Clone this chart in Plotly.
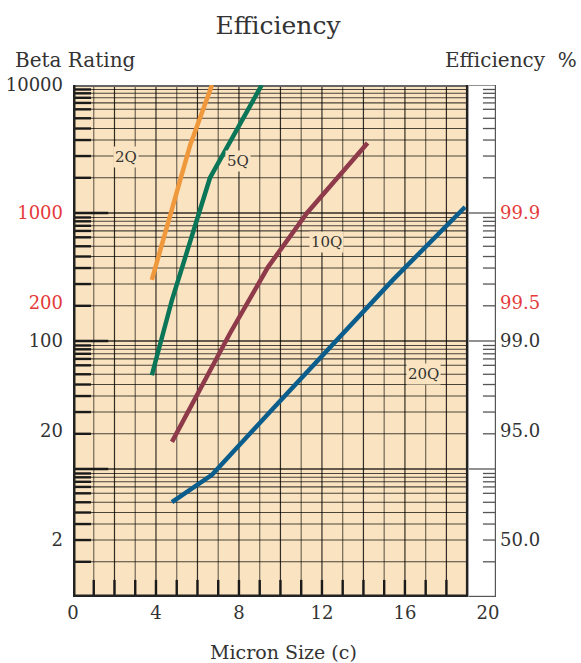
import plotly.graph_objects as go

# ---------------- data ----------------
x_2q = [3.8, 4.7, 5.65, 6.7]
y_2q = [300, 1000, 3400, 10000]
x_5q = [3.8, 4.77, 6.6, 9.1]
y_5q = [54, 209, 1877, 10000]
x_10q = [4.77, 7.57, 9.4, 11.28, 14.2]
y_10q = [16.3, 115, 378, 1000, 3520]
x_20q = [4.77, 6.7, 9.49, 12.24, 15.42, 18.9]
y_20q = [5.5, 9.0, 27.9, 85, 300, 1114]

series_names = ["2Q", "5Q", "10Q", "20Q"]
series_colors = ["#F0983C", "#0B7558", "#8E3A4A", "#0B5E8C"]
label_x = [2.55, 7.95, 12.2, 16.9]
label_logy = [3.44, 3.405, 2.773, 1.742]

left_tick_vals = [2.8, 20, 100, 200, 1000, 10000]
left_tick_text = ["2", "20", "100", "200", "1000", "10000"]
left_tick_red = [False, False, False, True, True, False]
right_tick_vals = [2.8, 20, 100, 200, 1000]
right_tick_text = ["50.0", "95.0", "99.0", "99.5", "99.9"]
right_tick_red = [False, False, False, True, True]
x_tick_vals = [0, 4, 8, 12, 16, 20]
x_tick_text = ["0", "4", "8", "12", "16", "20"]

# graph-paper line pattern inside each decade (fraction of a decade below its top)
GRID_FRACS = [0.035, 0.065, 0.10, 0.14, 0.19, 0.26, 0.34, 0.43, 0.555, 0.725]
DECADE_EXPS = [0, 1, 2, 3]

FONT = "DejaVu Serif"
TXT = "#333333"
RED = "#E53A3A"
PAPER = "#FAE3C0"

X_PLOT_END = 19.0
X_BOX_START = 19.08
X_BOX_SHORT = 19.76
X_END = 20.39

fig = go.Figure()

fig.add_shape(type="rect", xref="x", yref="y", x0=0, x1=X_PLOT_END, y0=1, y1=10000,
              fillcolor=PAPER, line=dict(width=0), layer="below")

def segs(pairs):
    xs, ys = [], []
    for (xa, xb, ya, yb) in pairs:
        xs += [xa, xb, None]
        ys += [ya, yb, None]
    return xs, ys

def add_lines(pairs, color, width):
    xs, ys = segs(pairs)
    fig.add_trace(go.Scatter(x=xs, y=ys, mode="lines", line=dict(color=color, width=width),
                             hoverinfo="skip", showlegend=False))

grid_vals = []
for k in DECADE_EXPS:
    for f in GRID_FRACS:
        grid_vals.append(10 ** (k + 1 - f))
decade_vals = [10, 100, 1000]

# horizontal grid
add_lines([(0, X_PLOT_END, v, v) for v in grid_vals], "rgba(0,0,0,0.7)", 1.1)
add_lines([(0, X_PLOT_END, v, v) for v in decade_vals], "rgba(0,0,0,0.8)", 1.3)
# vertical grid (alternating dark / grey as on the paper)
add_lines([(i, i, 1, 10000) for i in range(1, 19) if i % 2 == 0], "rgba(0,0,0,0.8)", 1.2)
add_lines([(i, i, 1, 10000) for i in range(1, 19) if i % 2 == 1], "rgba(0,0,0,0.55)", 1.2)
# left thick ticks
add_lines([(0, 0.87, v, v) for v in grid_vals], "#1a1a1a", 2.4)
add_lines([(0, 1.7, v, v) for v in decade_vals], "#1a1a1a", 2.4)
# bottom thick ticks
add_lines([(i, i, 1, 1.36) for i in range(1, 19)], "#1a1a1a", 2.4)
# plot borders
add_lines([(0, X_PLOT_END, 10000, 10000)], "#666666", 4)
add_lines([(X_PLOT_END, X_PLOT_END, 1, 10000)], "#222222", 2.5)
add_lines([(0, 0, 1, 10000)], "#222222", 5)
add_lines([(0, X_PLOT_END, 1, 1)], "#222222", 5)
# right efficiency box
add_lines([(X_BOX_SHORT, X_END, v, v) for v in grid_vals], "#555555", 1.3)
add_lines([(X_BOX_START, X_END, v, v) for v in decade_vals + [10000]], "#555555", 1.3)
add_lines([(X_BOX_START, X_END, 1, 1)], "#555555", 2.4)
add_lines([(X_END, X_END, 1, 10000)], "#555555", 2.4)

# data curves
for xs, ys, c in zip([x_2q, x_5q, x_10q, x_20q], [y_2q, y_5q, y_10q, y_20q], series_colors):
    fig.add_trace(go.Scatter(x=xs, y=ys, mode="lines", line=dict(color=c, width=4.5),
                             hoverinfo="skip", showlegend=False))

# dummy trace to activate y2
fig.add_trace(go.Scatter(x=[None], y=[None], yaxis="y2", showlegend=False))

for name, lx, ly in zip(series_names, label_x, label_logy):
    fig.add_annotation(x=lx, y=ly, xref="x", yref="y", text=name, showarrow=False,
                       font=dict(family=FONT, size=15, color=TXT), bgcolor=PAPER, borderpad=1)

def colored(texts, reds):
    return [f'<span style="color:{RED}">{t}</span>' if r else t for t, r in zip(texts, reds)]

fig.update_layout(
    width=581, height=663,
    margin=dict(l=73, r=85, t=85, b=66, autoexpand=False),
    paper_bgcolor="white", plot_bgcolor="white",
    showlegend=False,
    title=dict(text="Efficiency", x=278 / 581, xref="container", xanchor="center",
               y=1 - 25 / 663, yref="container", yanchor="middle",
               font=dict(family=FONT, size=25, color=TXT)),
    xaxis=dict(range=[0, X_END], showgrid=False, zeroline=False, showline=False,
               tickvals=x_tick_vals, ticktext=x_tick_text, ticks="", automargin=False,
               ticklabelstandoff=3,
               tickfont=dict(family=FONT, size=18, color=TXT)),
    yaxis=dict(type="log", range=[0, 4], showgrid=False, zeroline=False, showline=False,
               tickvals=left_tick_vals, ticktext=colored(left_tick_text, left_tick_red),
               ticks="", ticklabelstandoff=9, automargin=False,
               tickfont=dict(family=FONT, size=18, color=TXT)),
    yaxis2=dict(type="log", range=[0, 4], overlaying="y", side="right", anchor="x",
                showgrid=False, zeroline=False, showline=False, automargin=False,
                tickvals=right_tick_vals, ticktext=colored(right_tick_text, right_tick_red),
                ticks="", ticklabelstandoff=3,
                tickfont=dict(family=FONT, size=18, color=TXT)),
)

fig.add_annotation(x=13, xref="paper", y=60, yref="paper", text="Beta Rating", showarrow=False,
                   font=dict(family=FONT, size=20, color=TXT), xanchor="left", yanchor="middle")
fig.add_annotation(x=579, xref="paper", y=60, yref="paper", text="Efficiency\u00a0\u00a0%", showarrow=False,
                   font=dict(family=FONT, size=20, color=TXT), xanchor="right", yanchor="middle")
fig.add_annotation(x=283, xref="paper", y=652, yref="paper", text="Micron Size (c)", showarrow=False,
                   font=dict(family=FONT, size=19, color=TXT), xanchor="center", yanchor="middle")

# convert pixel positions of the free annotations into paper coordinates
PL, PR, PT, PB = 73, 581 - 85, 85, 663 - 66
for a in fig.layout.annotations:
    if a.xref == "paper":
        a.x = (a.x - PL) / (PR - PL)
        a.y = (PB - a.y) / (PB - PT)

fig.write_html("out.html", config={"displayModeBar": False},
               post_script="document.body.style.margin='0';document.body.style.overflow='hidden';")
